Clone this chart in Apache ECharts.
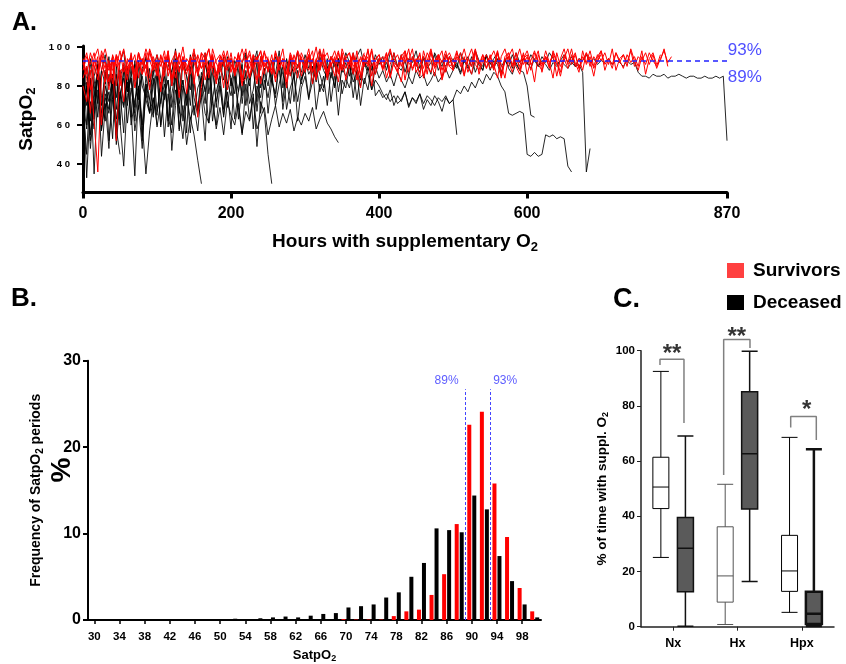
<!DOCTYPE html>
<html><head><meta charset="utf-8">
<script src="https://cdn.jsdelivr.net/npm/echarts@6/dist/echarts.min.js"></script>
<style>html,body{margin:0;padding:0;background:#fff}#c{width:846px;height:664px}</style>
</head><body><div id="c"></div>
<script>
const FONT = '"Liberation Sans", Arial, Helvetica, sans-serif';

// ---------- Panel A : SatpO2 traces (one reading every 5 h) ----------
const HOUR_STEP = 5;
const aXTicks = [0, 200, 400, 600, 870];
const aYTicks = [40, 60, 80, 100];

const red1 = [88,95,91,97,86,93,99,90,84,96,92,98,89,94,87,97,91,99,93,88,
96,90,98,85,93,97,91,100,88,95,92,86,97,94,99,89,93,96,90,98,
87,95,92,99,91,84,96,93,98,90,94,88,97,92,99,86,95,91,98,93,
89,96,92,100,88,94,97,90,95,86,99,93,91,97,88,95,92,98,90,94,
96,89,93,99,91,87,95,98,92,94,90,97,85,93,99,91,96,88,94,97,
92,98,90,95,87,93,99,91,96,89,94,98,92,86,95,97,90,93,99,91,
95,88,97,93,90,98,92,96,85,94,99,91,93,97,89,95,92,98,90,96,
93,97,91,99,88,94,96,92,98,90,95,93,97,91,96,89,94,98,92,95];
const red2 = [84,90,78,93,87,96,82,91,88,95,80,92,86,97,83,90,94,85,98,89,
92,79,95,88,93,84,97,90,86,94,81,96,89,92,99,87,83,95,91,88,
97,85,92,80,94,89,96,83,91,98,87,93,82,95,90,86,97,92,84,94,
89,96,81,93,88,99,85,91,94,87,97,83,92,96,88,79,94,90,98,86,
93,95,84,91,97,88,82,96,92,89,94,85,98,91,87,93,96,83,90,95,
88,97,92,85,94,90,98,86,93,96,89,91,84,95,99,92,87,94,90,97,
86,93,98,91,88,95,92,84,97,90,94,89,96,92,87,98,91,95,89,93,96];
const red3 = [91,97,86,94,99,88,93,82,96,90,98,87,92,95,84,97,91,89,99,93,
86,95,90,98,83,92,96,88,94,91,99,85,93,97,89,95,81,92,98,90,
94,87,96,92,99,84,91,95,88,97,93,86,98,90,94,92,85,96,89,97,
92,99,87,94,90,96,83,93,98,91,88,95,97,86,92,94,90,99,85,93,
96,89,94,98,91,87,95,92,99,88,93,96,84,91,97,90,94,98,87,95,
90,93,97,86,94,99,91,88,96,92,95,89,98,85,93,97,90,94,92,96,91];
const red4 = [80,72,88,62,36,85,91,78,94,52,87,90,83,95,79,92,86,97,84,90,
93,77,89,96,82,91,74,95,88,93,85,64,80,92,87,96,83,90,94,78,
91,86,97,82,84,93,89,95,81,92,88,96,84,90,93,79,95,87,98,85,
92,88,94,83,97,90,86,95,91,82,96,89,93,87,98,84,92,95,80,91,
94,88,97,85,92,90,96,83,93,99,87,91,95,86,98,89,93,84,96,90,92];
const red5 = [92,84,66,89,95,60,87,93,81,96,88,72,94,90,83,97,86,91,78,95,
89,93,85,98,80,92,87,95,76,91,94,88,97,83,90,96,86,93,79,94,
91,87,96,84,92,98,89,81,95,90,93,86,97,88,94,82,96,91,89,95,
87,93,98,84,91,96,88,92,85,97,90,94,89,95,83,92,97];
const red6 = [94,86,97,90,83,98,92,88,95,80,93,99,87,91,96,84,94,89,97,92,
85,96,90,93,82,98,88,94,91,86,97,93,89,95,84,99,92,87,96,90,
94,88,97,83,92,96,89,93,98,86,95];
const red7 = [90,96,87,93,99,91,85,95,92,98,88,94,97,90,93,86,96,91,99,89,
94,92,97,84,93,96,90,98,87,95,91,94,89,97,93,85,96,92,98,90,
88,95,93,99,91,86,97,92,94,89,96,90,98,84,93,95,91,97,88,94,
96,91,93,98,87,95,90,97,92,85,94,99,91,96,89,93,97,90,95,92,
98,88,94,91,97,93,89,96,92,95,90,98,86,94,97,91,93,99,90];
const red8 = [93,88,97,91,84,95,99,90,86,94,98,92,82,96,91,95,89,98,93,87,
96,92,99,90,94,88,97,93,85,95,98,91,94,89,97,92,96,90,99,93,
88,95,91,97,93,90,96];
const redStartHours = [0, 0, 0, 0, 0, 0, 300, 550];

const blk1 = [75,90,62,85,93,70,88,80,95,68,84,91,77,96,82,73,89,94,79,86,
92,71,87,95,80,90,66,93,85,78,97,88,74,91,83,95,69,89,92,81,
94,86,77,92,97,83,89,72,95,88,80,93,86,98,79,90,94,84,91,87,
96,89,93,85,98,91,87,95,90,94,88,97,92,86,95,99,90,93,88,96,
91,95,88,97,93,90,96,87,94,92,98,89,95,91,86,97,93,90,96,92,
94,89,97,92,95,90,98,93,88,96,91,94,97,90,93,95,89,97,92,94,
91,96,93,90,95,92,97,94,91,93,96,92,95,90,94,93,96,92,94,91,
93,92,94,91,93,92,90,93,91,92,
87,85,85,84,86,85,85,86,84,85,85,86,85,84,85,85,84,84,85,84,84,85,84,85,
52];
const blk2 = [68,82,55,78,88,64,80,72,86,58,76,84,70,90,62,79,85,73,66,81,
87,60,77,83,69,86,57,80,74,88,65,79,84,71,93,62,77,85,68,82,
75,89,63,80,86,71,78,92,66,83,74,87,70,81,90,68,79,85,72,84,
88,74,82,91,77,85,70,87,80,93,76,84,79,89,73,86,81,90,78,83,
80,76,73,78,70,75,72,77,69,74,71,76,68,73,70,75,72,67,74,71,
73,78,76,80,77,82,79,84,81,86,83,87,85,80,77,66,65,66,67,66,
45,44,46,44,45,55,54,55,53,54,53,39,36];
const blk3 = [72,58,84,66,91,75,62,86,79,53,88,70,82,64,93,77,60,85,73,89,
67,80,92,59,76,87,71,83,56,90,74,65,85,78,61,88,72,81,95,69,
84,63,77,91,70,86,58,80,74,89,66,83,76,93,68,82,71,87,62,79,
85,73,90,68,81,77,94,72,86,65,83,79,91,74,88,70,84,78,92,75,
78,74,76,72,75,71,73,77,70,74,72,76,71,75,73,70,74,72,75,71,
73,55];
const blk4 = [85,70,92,78,64,88,81,95,73,86,60,90,77,84,69,93,80,74,89,66,
91,79,85,62,88,94,75,83,70,96,82,68,87,77,92,73,86,81,64,90,
84,76,93,71,88,80,95,67,85,78,90,83,74,92,86,79,94,72,88,81,
93,86,90,82,95,88,84,91,79,94,87,92,85,97,89,83,93,88,91,86,
94,89,92,86,97,90,88,93,85,95,91,87,94,89,92,96,88,93,90,95,
89,92,87,94,90,86,93,91,88,95,92,89,94,87,93,90,96,91,88,94,
92,89,94,90,93,91,88,92,90,93,91,89,92,90,91,87,36,48];
const blk5 = [90,77,94,83,71,88,96,80,86,74,92,98,79,85,91,68,87,95,82,89,
96,84,73,91,87,99,78,93,85,70,94,88,81,97,76,90,86,92,83,95,
80,93,88,75,96,84,91,98,79,87,93,82,95,89,72,94,86,90,97,83,
88,95,81,92,86,79,90,84,93,77,89,85,91,82,87,80,92,86,78,90,
84,88,82,86,80,87,83,79,85,81,88,84,86,80,83,87,82,85,89,84,
88,91,86,93,89,95,87,92,90,96,88,93,91,85,94,89,86,92,88,87,
80,65,64];
const blk6 = [62,79,48,70,85,58,74,66,82,55,77,69,88,60,73,80,52,76,67,84,
59,72,81,64,56,78,68,53,75,63,70,57,79,66,61,74,58,69,55,72,
65,60,71,56,67,62,74,58,64,69,55,63,70,59,66,61,68,57,64,60,
66,62,69,58,63,67,61,58,54,51];
const blk7 = [70,45,82,63,91,57,76,68,85,50,73,88,61,79,66,92,54,81,72,64,
87,59,75,83,47,70,90,62,78,56,84,67,74,52,89,71,60,80,65,77,
58,86,69,55,81,63,76,49,72,66,45,30];
const blk8 = [66,80,52,74,88,59,71,48,83,63,77,56,90,68,34,79,61,35,57,73,
65,82,54,76,60,87,58,70,50,64,55,42,30];
const blk9 = [80,33,72,58,86,44,69,77,53,91,62,39,75,84,57,70,48,81,66,74,60];
const blk10 = [92,60,84,35,78,66,88,52,73,58,45];

const aThreshold = 93;
const aThresholdLabels = [[894, 98.0, '93%'], [894, 84.6, '89%']];

// ---------- Panel B : frequency histogram ----------
const bCategories = ['30','32','34','36','38','40','42','44','46','48','50','52','54','56','58','60','62','64',
                     '66','68','70','72','74','76','78','80','82','84','86','88','90','92','94','96','98','100'];
const survivorsFreq = [0,0,0,0,0,0,0,0,0,0,0,0,0,0,0,0,0,0,
                       0,0,0.1,0.05,0.05,0.05,0.45,1.0,1.2,2.9,5.3,11.1,22.6,24.1,15.8,9.6,3.7,1.0];
const deceasedFreq = [0,0,0,0,0,0,0,0,0.05,0.05,0.05,0.15,0.05,0.2,0.3,0.4,0.3,0.5,
                      0.7,0.8,1.45,1.6,1.8,2.6,3.2,5.0,6.6,10.6,10.4,10.15,14.4,12.8,7.4,4.5,1.8,0.3];
const bLines = [89, 93];
const bLineTop = 26.7;
const bLineLabels = [[86.0, 27.65, '89%'], [95.3, 27.65, '93%']];

// ---------- Panel C : box plots [min, Q1, median, Q3, max] ----------
const cCategories = ['Nx', 'Hx', 'Hpx'];
const survivorsBox = [[25.1,42.8,50.6,61.4,92.5],[0.8,8.9,18.4,36.2,51.6],[5.2,12.8,20.2,33.1,68.6]];
const deceasedBox  = [[0.2,12.7,28.4,39.6,69.1],[16.4,42.6,62.7,85.1,99.8],[0.25,1.0,4.7,12.7,64.3]];
const bracketNx  = [[0.295,94.8],[0.295,96.9],[0.668,96.9],[0.668,73.8]];
const bracketHx  = [[1.285,55.0],[1.285,104.1],[1.694,104.1],[1.694,101.0]];
const bracketHpx = [[2.327,72.2],[2.327,76.2],[2.725,76.2],[2.725,67.6]];
const stars = [[0.482, 98.6, '**'], [1.488, 105.0, '**'], [2.576, 78.4, '*']];

// ---------- build ----------
const chart = echarts.init(document.getElementById('c'), null, { renderer: 'canvas' });
const toPairs = (vals, start) => vals.map((v, i) => [start + i * HOUR_STEP, v]);
const blackTraces = [blk1, blk2, blk3, blk4, blk5, blk6, blk7, blk8, blk9, blk10];
const redTraces = [red1, red2, red3, red4, red5, red6, red7, red8];

const series = [];
blackTraces.forEach(t => series.push({
  type: 'line', xAxisIndex: 0, yAxisIndex: 0, data: toPairs(t, 0), symbol: 'none',
  lineStyle: { color: '#000', width: 1, opacity: 0.85 }, silent: true, z: 2
}));
redTraces.forEach((t, k) => series.push({
  type: 'line', xAxisIndex: 0, yAxisIndex: 0, data: toPairs(t, redStartHours[k]), symbol: 'none',
  lineStyle: { color: '#ff0000', width: 1 }, silent: true, z: 3
}));
series.push({
  type: 'scatter', xAxisIndex: 0, yAxisIndex: 0, data: aThresholdLabels, symbolSize: 0, clip: false, silent: true, z: 5,
  label: { show: true, position: 'inside', formatter: p => p.value[2], color: '#2222ff', fontSize: 17, fontFamily: FONT },
  markLine: {
    silent: true, symbol: ['none', 'none'], label: { show: false },
    lineStyle: { type: [5, 4], color: '#2222ff', width: 1.5 },
    data: [{ yAxis: aThreshold }]
  }
});

// Panel B bars
series.push({ name: 'Survivors', type: 'bar', xAxisIndex: 1, yAxisIndex: 1, data: survivorsFreq,
  barWidth: 4, barGap: '25%', itemStyle: { color: '#ff0000' }, silent: true });
series.push({ name: 'Deceased', type: 'bar', xAxisIndex: 1, yAxisIndex: 1, data: deceasedFreq,
  barWidth: 4, barGap: '25%', itemStyle: { color: '#000000' }, silent: true });
series.push({
  type: 'scatter', xAxisIndex: 2, yAxisIndex: 1, data: bLineLabels, symbolSize: 0, silent: true, clip: false,
  label: { show: true, position: 'inside', formatter: p => p.value[2], color: '#3333ff', fontSize: 12, fontFamily: FONT },
  markLine: {
    silent: true, symbol: ['none', 'none'], label: { show: false },
    lineStyle: { type: [3, 2], color: '#4444ff', width: 1 },
    data: bLines.map(v => [{ coord: [v, 0] }, { coord: [v, bLineTop] }])
  }
});

// Panel C boxes
series.push({
  name: 'Survivors box', type: 'boxplot', xAxisIndex: 5, yAxisIndex: 3, boxWidth: [16, 16], silent: true,
  itemStyle: { color: '#ffffff', borderColor: '#000', borderWidth: 1 },
  data: survivorsBox.map((d, i) => i === 1 ? { value: d, itemStyle: { borderColor: '#555' } } : d)
});
series.push({
  name: 'Deceased box', type: 'boxplot', xAxisIndex: 6, yAxisIndex: 4, boxWidth: [16, 16], silent: true,
  itemStyle: { color: '#5a5a5a', borderColor: '#111', borderWidth: 1.5 },
  data: deceasedBox.map((d, i) => i === 2 ? { value: d, itemStyle: { borderWidth: 2.5 } } : d)
});
[bracketNx, bracketHx, bracketHpx].forEach(b => series.push({
  type: 'line', xAxisIndex: 4, yAxisIndex: 2, data: b, symbol: 'none', clip: false, silent: true,
  lineStyle: { color: '#808080', width: 1.5 }
}));
series.push({
  type: 'scatter', xAxisIndex: 4, yAxisIndex: 2, data: stars, symbolSize: 0, clip: false, silent: true,
  label: { show: true, position: 'inside', formatter: p => p.value[2], color: '#000', fontSize: 24, fontWeight: 'bold', fontFamily: FONT }
});

const subRich = size => ({ s: { fontSize: size, fontWeight: 'bold', fontFamily: FONT, padding: [Math.round(size * 0.8), 0, 0, 0] } });

const option = {
  animation: false,
  backgroundColor: '#fff',
  textStyle: { fontFamily: FONT },
  legend: {
    show: true, orient: 'vertical', left: 722, top: 256, itemWidth: 17, itemHeight: 15, itemGap: 13,
    icon: 'rect', selectedMode: false,
    textStyle: { fontSize: 19, fontWeight: 'bold', color: '#000', fontFamily: FONT, padding: [0, 0, 0, 4] },
    data: [{ name: 'Survivors', itemStyle: { color: '#ff4040' } }, { name: 'Deceased', itemStyle: { color: '#000' } }]
  },
  grid: [
    { left: 83, top: 45.9, width: 644, height: 146.6 },
    { left: 88, top: 360.7, width: 453, height: 262 },
    { left: 641, top: 350.7, width: 193, height: 276 },
    { left: 628.7, top: 350.7, width: 193, height: 276 },
    { left: 653.3, top: 350.7, width: 193, height: 276 }
  ],
  xAxis: [
    { type: 'value', gridIndex: 0, min: 0, max: 870,
      axisLine: { show: true, lineStyle: { color: '#000', width: 3 } },
      axisTick: { show: true, customValues: aXTicks, length: 6, lineStyle: { width: 3, color: '#000' } },
      axisLabel: { customValues: aXTicks, margin: 13, fontSize: 16, fontWeight: 'bold', color: '#000', fontFamily: FONT },
      splitLine: { show: false },
      name: 'Hours with supplementary O{s|2}', nameLocation: 'middle', nameGap: 38,
      nameTextStyle: { fontSize: 19, fontWeight: 'bold', color: '#000', fontFamily: FONT, rich: subRich(13) } },
    { type: 'category', gridIndex: 1, data: bCategories, boundaryGap: true,
      axisLine: { lineStyle: { color: '#000', width: 2 } },
      axisTick: { show: true, alignWithLabel: true, interval: 1, length: 4, lineStyle: { color: '#000', width: 1.5 } },
      axisLabel: { interval: 1, margin: 11, fontSize: 11.5, fontWeight: 'bold', color: '#000', fontFamily: FONT },
      name: 'SatpO{s|2}', nameLocation: 'middle', nameGap: 27,
      nameTextStyle: { fontSize: 13, fontWeight: 'bold', color: '#000', fontFamily: FONT, rich: subRich(9) } },
    { type: 'value', gridIndex: 1, min: 29, max: 101, show: false },
    { type: 'category', gridIndex: 2, data: cCategories, boundaryGap: true,
      axisLine: { lineStyle: { color: '#222', width: 1.5 } },
      axisTick: { show: true, alignWithLabel: true, length: 4, lineStyle: { color: '#222' } },
      axisLabel: { margin: 10, fontSize: 12.5, fontWeight: 'bold', color: '#000', fontFamily: FONT } },
    { type: 'value', gridIndex: 2, min: 0, max: 3, show: false },
    { type: 'category', gridIndex: 3, data: cCategories, show: false },
    { type: 'category', gridIndex: 4, data: cCategories, show: false }
  ],
  yAxis: [
    { type: 'value', gridIndex: 0, min: 25.5, max: 100.5,
      axisLine: { show: true, lineStyle: { color: '#000', width: 3 } },
      axisTick: { show: true, customValues: aYTicks, length: 6, lineStyle: { width: 2, color: '#000' } },
      axisLabel: { customValues: aYTicks, margin: 13, fontSize: 9.5, fontWeight: 'bold', color: '#000', fontFamily: FONT,
        formatter: v => String(v).split('').join(' ') },
      splitLine: { show: false },
      name: 'SatpO{s|2}', nameLocation: 'middle', nameGap: 44, nameRotate: 90,
      nameTextStyle: { fontSize: 19, fontWeight: 'bold', color: '#000', fontFamily: FONT, rich: subRich(13) } },
    { type: 'value', gridIndex: 1, min: 0, max: 30, interval: 10,
      axisLine: { show: true, lineStyle: { color: '#000', width: 2 } },
      axisTick: { show: true, length: 5, lineStyle: { width: 2, color: '#000' } },
      axisLabel: { margin: 7, fontSize: 16, fontWeight: 'bold', color: '#000', fontFamily: FONT },
      splitLine: { show: false },
      name: 'Frequency of SatpO{s|2} periods', nameLocation: 'middle', nameGap: 43, nameRotate: 90,
      nameTextStyle: { fontSize: 14, fontWeight: 'bold', color: '#000', fontFamily: FONT, rich: subRich(10) } },
    { type: 'value', gridIndex: 2, min: 0, max: 100, interval: 20,
      axisLine: { show: true, lineStyle: { color: '#222', width: 1.5 } },
      axisTick: { show: true, length: 4, lineStyle: { color: '#222' } },
      axisLabel: { margin: 6, fontSize: 11.5, fontWeight: 'bold', color: '#000', fontFamily: FONT },
      splitLine: { show: false },
      name: '% of time with suppl. O{s|2}', nameLocation: 'middle', nameGap: 31, nameRotate: 90,
      nameTextStyle: { fontSize: 13.5, fontWeight: 'bold', color: '#000', fontFamily: FONT, rich: subRich(9) } },
    { type: 'value', gridIndex: 3, min: 0, max: 100, show: false },
    { type: 'value', gridIndex: 4, min: 0, max: 100, show: false }
  ],
  graphic: [
    { type: 'text', left: 12, top: 11, style: { text: 'A.', fontSize: 25, fontWeight: 'bold', fontFamily: FONT, fill: '#000' } },
    { type: 'text', left: 11, top: 286, style: { text: 'B.', fontSize: 26, fontWeight: 'bold', fontFamily: FONT, fill: '#000' } },
    { type: 'text', left: 613, top: 286, style: { text: 'C.', fontSize: 27, fontWeight: 'bold', fontFamily: FONT, fill: '#000' } },
    { type: 'text', x: 62, y: 470, rotation: Math.PI / 2,
      style: { text: '%', fontSize: 28, fontWeight: 'bold', fontFamily: FONT, fill: '#000', align: 'center', verticalAlign: 'middle' } }
  ],
  series: series
};
chart.setOption(option);
</script>
</body></html>
